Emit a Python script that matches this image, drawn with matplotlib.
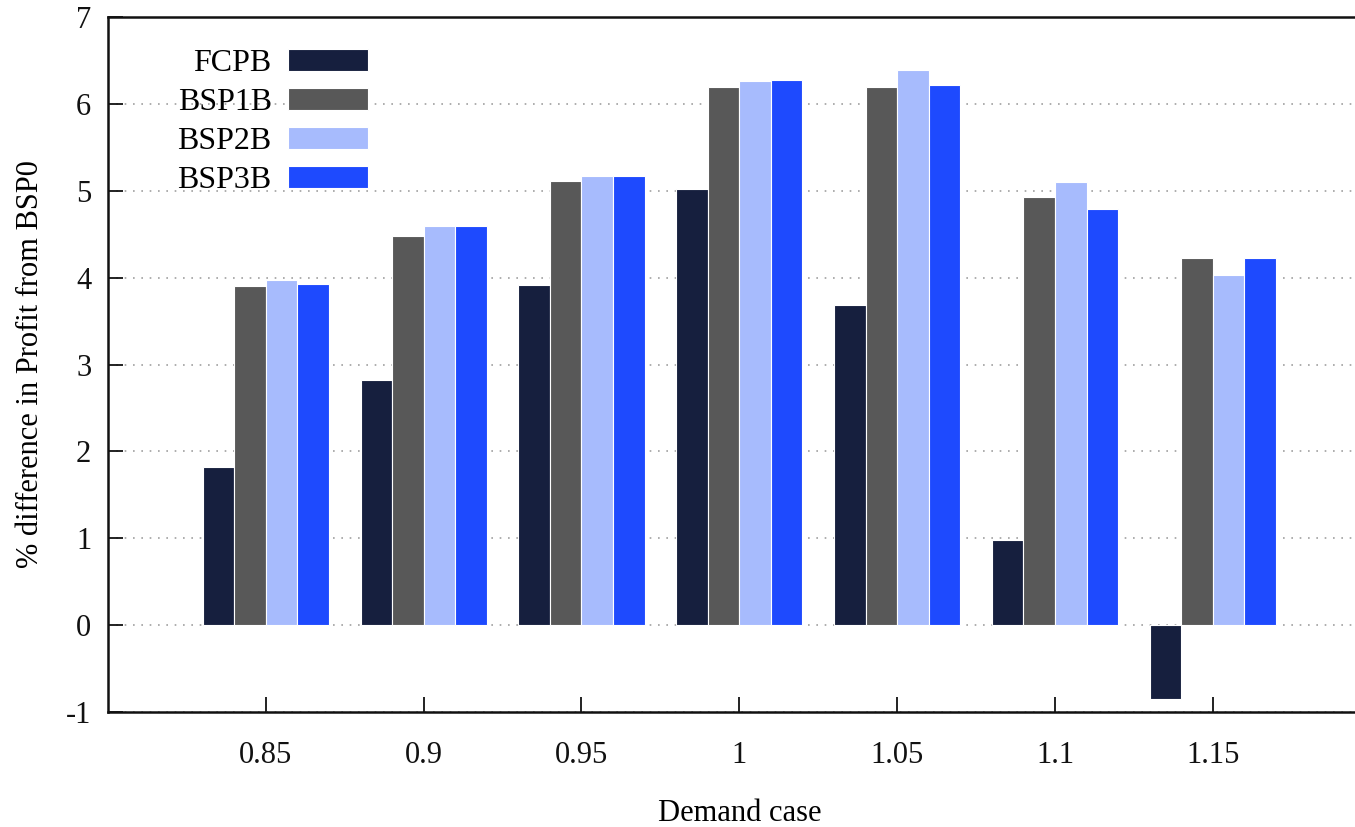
import matplotlib
matplotlib.use("Agg")
import matplotlib.pyplot as plt
import numpy as np

plt.rcParams['font.family'] = ['Liberation Serif', 'DejaVu Serif']

categories = ["0.85", "0.9", "0.95", "1", "1.05", "1.1", "1.15"]
series_names = ["FCPB", "BSP1B", "BSP2B", "BSP3B"]
fcpb = [1.82, 2.82, 3.91, 5.02, 3.68, 0.98, -0.85]
bsp1b = [3.90, 4.48, 5.11, 6.20, 6.19, 4.93, 4.23]
bsp2b = [3.97, 4.60, 5.17, 6.26, 6.39, 5.10, 4.03]
bsp3b = [3.93, 4.59, 5.17, 6.28, 6.22, 4.79, 4.23]
colors = ["#161f3e", "#585858", "#a7bbfd", "#1e4afe"]

W, H = 1355, 827
fig = plt.figure(figsize=(W / 100, H / 100), dpi=100)
ax = fig.add_axes([108 / W, (H - 712) / H, 1262.6 / W, (712 - 17) / H])

x = np.arange(len(categories))
width = 0.2
offsets = [-0.3, -0.1, 0.1, 0.3]
for vals, name, col, off in zip([fcpb, bsp1b, bsp2b, bsp3b], series_names, colors, offsets):
    ax.bar(x + off, vals, width, color=col, label=name, edgecolor="white",
           linewidth=0.8, zorder=3)

ax.set_xlim(-1, 7)
ax.set_ylim(-1, 7)
ax.set_xticks(x)
ax.set_xticklabels(categories)
ax.set_yticks(np.arange(-1, 8, 1))
ax.set_yticklabels([str(v) for v in range(-1, 8)])

ax.tick_params(axis="both", direction="in", length=11, width=1.3, labelsize=22,
               colors="#111111")
ax.tick_params(axis="x", pad=21)
ax.tick_params(axis="y", pad=12)

ax.grid(axis="y", linestyle=(0, (1, 4)), color="#a0a0a0", linewidth=1.2, zorder=0)
for side in ["top", "left", "bottom"]:
    ax.spines[side].set_linewidth(1.8)
    ax.spines[side].set_color("#111111")
ax.spines["right"].set_visible(False)

ax.set_xlabel("Demand case", fontsize=22, labelpad=21)
ax.set_ylabel("% difference in Profit from BSP0", fontsize=22, labelpad=15)

leg = ax.legend(loc="upper left", bbox_to_anchor=(0.055, 0.954), frameon=False,
                markerfirst=False, fontsize=23, handlelength=2.5,
                handleheight=0.68, labelspacing=0.31, handletextpad=0.5,
                borderaxespad=0.0, borderpad=0.0)

fig.savefig("out.png", dpi=100)
